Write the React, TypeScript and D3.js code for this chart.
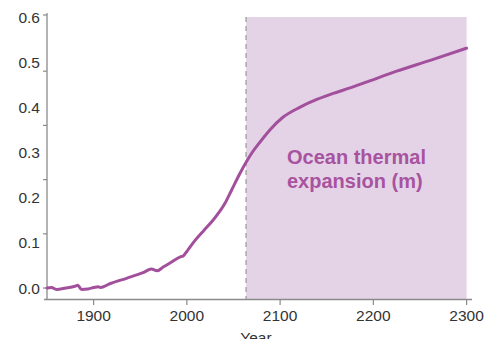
import React from "react";
import * as d3 from "d3";

const years = [1850, 1855, 1860, 1870, 1880, 1883, 1887, 1894, 1900, 1905, 1907, 1918, 1936, 1953, 1962, 1968, 1975, 1984, 1993, 1996, 2001, 2009, 2018, 2028, 2041, 2048, 2057, 2064, 2070, 2078, 2089, 2103, 2121, 2140, 2157, 2175, 2194, 2225, 2261, 2300];
const values = [0.0, 0.001, -0.003, 0.0, 0.004, 0.006, -0.003, -0.002, 0.001, 0.003, 0.001, 0.01, 0.022, 0.034, 0.042, 0.038, 0.047, 0.058, 0.069, 0.071, 0.084, 0.106, 0.127, 0.15, 0.188, 0.217, 0.254, 0.28, 0.3, 0.322, 0.35, 0.378, 0.4, 0.418, 0.431, 0.443, 0.457, 0.48, 0.504, 0.531];
const xTicks = [1900, 2000, 2100, 2200, 2300];
const yLabels = [0, 0.1, 0.2, 0.3, 0.4, 0.5, 0.6];
const yTickMarks = [0, 0.12, 0.24, 0.36, 0.48, 0.6];
const projectionStart = 2063.5;
const labelLines = ["Ocean thermal", "expansion (m)"];

export default function App() {
  const W = 488, H = 339;
  const x = d3.scaleLinear().domain([1850, 2300]).range([47, 466.6]);
  const y = d3.scaleLinear().domain([-0.0243, 0.6]).range([299, 17]);
  const pts = years.map((yr, i) => [yr, values[i]] as [number, number]);
  const line = d3.line<[number, number]>().x(d => x(d[0])).y(d => y(d[1])).curve(d3.curveMonotoneX);
  const font = "Liberation Sans, Arial, sans-serif";
  const axisColor = "#8a8a8a";
  return (
    <svg width={W} height={H} style={{ position: "absolute", left: 0, top: 0 }} fontFamily={font}>
      <rect x={x(projectionStart)} y={y(0.6)} width={x(2300) - x(projectionStart)} height={299 - y(0.6)} fill="#e4d3e6" />
      <line x1={x(projectionStart)} x2={x(projectionStart)} y1={y(0.6)} y2={299} stroke="#a9a9a9" strokeWidth={1.5} strokeDasharray="5,4" />
      {/* axes */}
      <line x1={47} x2={47} y1={13} y2={299.5} stroke={axisColor} strokeWidth={1.3} />
      <line x1={44} x2={472} y1={299.5} y2={299.5} stroke={axisColor} strokeWidth={1.3} />
      {yTickMarks.map(v => (
        <line key={"ym" + v} x1={43} x2={47} y1={y(v) - (v === 0.6 ? 2 : 0)} y2={y(v) - (v === 0.6 ? 2 : 0)} stroke={axisColor} strokeWidth={1.2} />
      ))}
      {yLabels.map(v => (
        <text key={"yl" + v} x={40} y={y(v) + 5.5} textAnchor="end" fontSize={15.5} fill="#333">{v.toFixed(1)}</text>
      ))}
      {xTicks.map(t => (
        <g key={"xt" + t}>
          <line x1={x(t)} x2={x(t)} y1={299.5} y2={305} stroke={axisColor} strokeWidth={1.2} />
          <text x={x(t)} y={321} textAnchor="middle" fontSize={15.5} fill="#333">{t}</text>
        </g>
      ))}
      <text x={256} y={343} textAnchor="middle" fontSize={15.5} fill="#333">Year</text>
      <path d={line(pts) || ""} fill="none" stroke="#a24f9c" strokeWidth={3} strokeLinejoin="round" strokeLinecap="round" />
      {labelLines.map((s, i) => (
        <text key={s} x={287} y={164 + i * 24} fontSize={20} fontWeight="bold" fill="#a8539f">{s}</text>
      ))}
    </svg>
  );
}
